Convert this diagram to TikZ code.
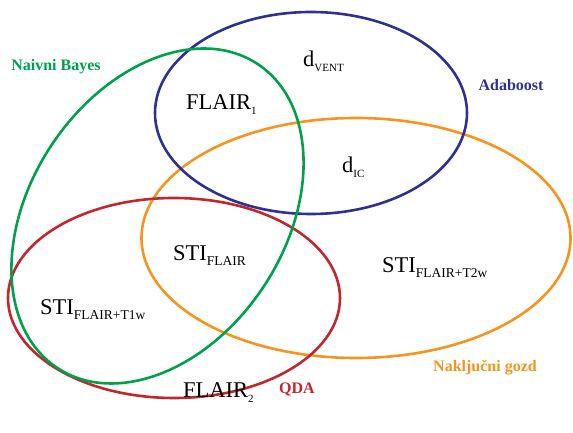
\documentclass[tikz,border=0pt]{standalone}
\usepackage{fontspec}
\setmainfont{Liberation Serif}
\definecolor{cblue}{HTML}{2E3192}
\definecolor{cgreen}{HTML}{00A14B}
\definecolor{cred}{HTML}{C1272D}
\definecolor{corange}{HTML}{F7941D}
\newcommand\sbx[1]{\raisebox{-5pt}{\fontsize{11}{12}\selectfont #1}}
\newcommand\sbl[1]{\raisebox{-5pt}{\fontsize{13.5}{14}\selectfont #1}}
\tikzset{
  setline/.style={line width=2.6pt},
  setlabel/.style={font=\fontsize{16}{18}\selectfont\bfseries, inner sep=0pt},
  region/.style={font=\fontsize{22.5}{24}\selectfont, inner sep=0pt, anchor=base west}
}
\begin{document}
\begin{tikzpicture}[x=1pt,y=1pt]
\useasboundingbox (0,0) rectangle (573,433);
\draw[setline, corange] (356,195) ellipse [x radius=214.5, y radius=120];
\draw[setline, cred] (174,135) ellipse [x radius=166, y radius=100];
\draw[setline, cblue] (311,320) ellipse [x radius=156, y radius=101];
\draw[setline, cgreen, rotate around={56.7:(157.5,217)}] (157.5,217) ellipse [x radius=182, y radius=127.5];

\node[setlabel, text=cgreen] (nb) at (56,366) {Naivni Bayes};
\node[setlabel, text=cblue] (ada) at (511,348) {Adaboost};
\node[setlabel, text=corange] (ng) at (485,65) {Naključni gozd};
\node[setlabel, text=cred] (qda) at (297,43) {QDA};

\node[region] (dvent) at (303,366) {d\sbx{VENT}};
\node[region] (flair1) at (186,323) {FLAIR\sbx{1}};
\node[region] (dic) at (342,260) {d\sbx{IC}};
\node[region] (stif) at (173,172) {STI\sbl{FLAIR}};
\node[region] (stit2) at (382,160) {STI\sbl{FLAIR+T2w}};
\node[region] (stit1) at (40,118) {STI\sbl{FLAIR+T1w}};
\node[region] (flair2) at (183,35) {FLAIR\sbx{2}};
\end{tikzpicture}
\end{document}
